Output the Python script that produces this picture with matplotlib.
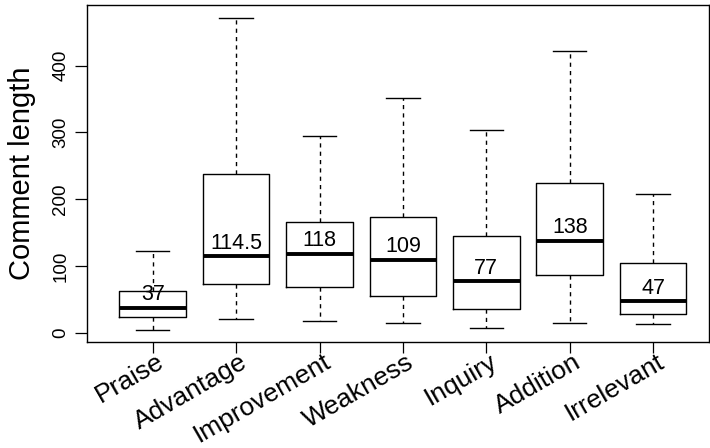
import matplotlib
matplotlib.use("Agg")
import matplotlib.pyplot as plt
import matplotlib.transforms as mtransforms

plt.rcParams['font.family'] = ['Liberation Sans', 'DejaVu Sans']

# five-number summaries
categories = ["Praise", "Advantage", "Improvement", "Weakness", "Inquiry", "Addition", "Irrelevant"]
whislo = [5, 21, 18, 15, 7.5, 15, 12.5]
q1 = [23, 73, 68, 55, 36, 86, 28]
med = [37, 114.5, 118, 109, 77, 138, 47]
q3 = [63, 238, 166, 174, 145, 224, 104.5]
whishi = [122, 472, 295, 352, 304, 422, 208]
yticks = [0, 100, 200, 300, 400]

stats = []
for name, lo, a, m, b, hi in zip(categories, whislo, q1, med, q3, whishi):
    stats.append({'label': name, 'whislo': lo, 'q1': a, 'med': m, 'q3': b, 'whishi': hi, 'fliers': []})

fig = plt.figure(figsize=(7.1, 4.48), dpi=100)
ax = fig.add_axes([0.123, 0.2366, 0.8756, 0.7522])

positions = list(range(1, len(categories) + 1))
ax.bxp(stats, positions=positions, widths=0.8, showfliers=False,
       boxprops=dict(color='black', linewidth=1.0),
       medianprops=dict(color='black', linewidth=2.8, solid_capstyle='butt'),
       whiskerprops=dict(color='black', linewidth=1.0, linestyle=(0, (3, 3))),
       capprops=dict(color='black', linewidth=1.0),
       capwidths=0.4)

# median labels just above the median line
for x, m in zip(positions, med):
    ax.annotate(f"{m:g}", (x, m), xytext=(0, 2), textcoords='offset points',
                ha='center', va='bottom', fontsize=15.5)

ax.set_xlim(0.216, 7.67)
ax.set_ylim(-13.7, 490.7)

ax.set_yticks(yticks)
ax.set_yticklabels([str(t) for t in yticks], rotation=90, va='center', fontsize=13.5)
ax.tick_params(axis='y', length=9, width=0.9, pad=4)

ax.set_xticks(positions)
ax.set_xticklabels(categories, rotation=30, rotation_mode='anchor', ha='right', va='center', fontsize=19)
ax.tick_params(axis='x', length=8, width=0.9, pad=5)
offset = mtransforms.ScaledTranslation(9 / 100, 0, fig.dpi_scale_trans)
for lab in ax.get_xticklabels():
    lab.set_transform(lab.get_transform() + offset)

ax.set_ylabel("Comment length", fontsize=21, labelpad=12)
for sp in ax.spines.values():
    sp.set_linewidth(1.0)

fig.savefig("out.png", dpi=100)
